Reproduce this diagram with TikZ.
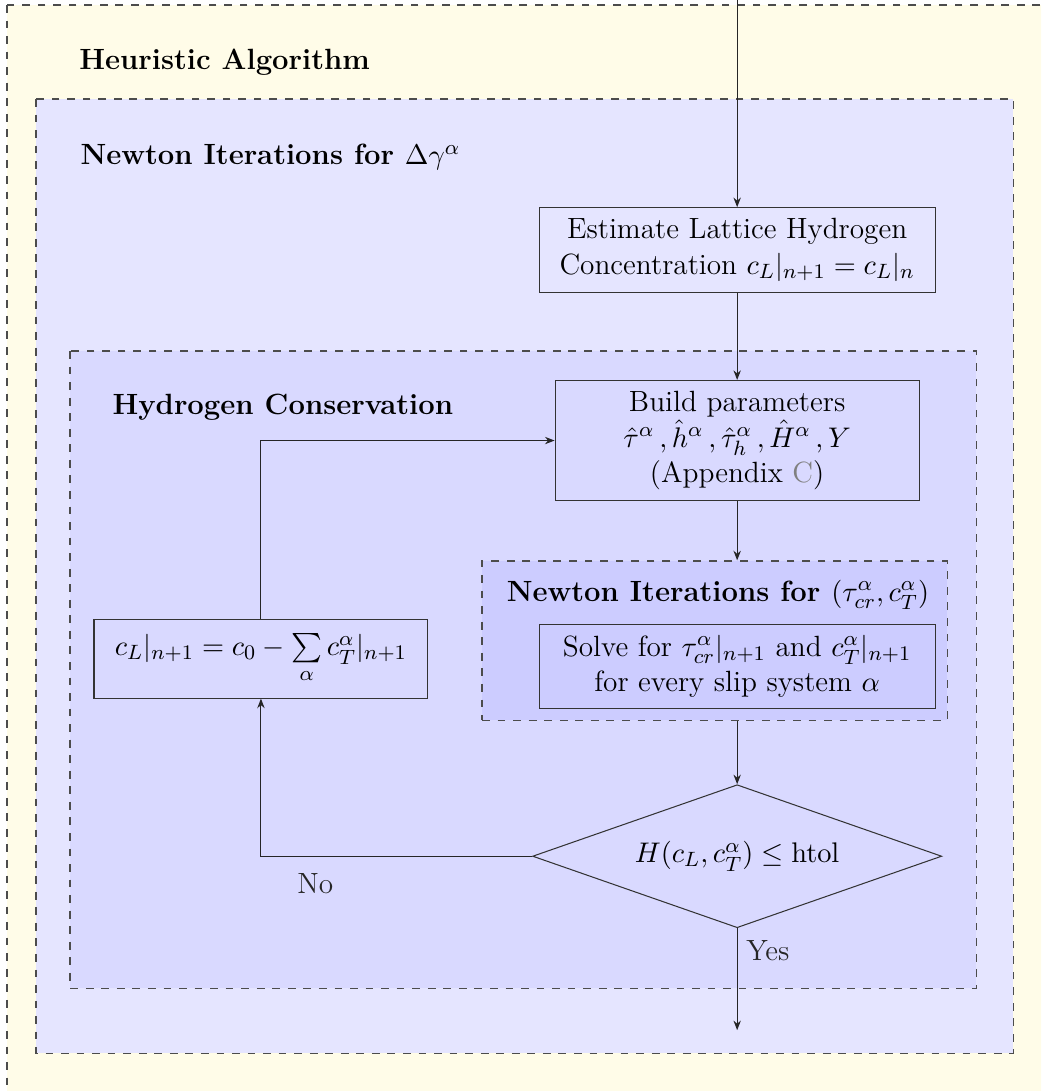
\documentclass[tikz,border=0pt]{standalone}
\usepackage{amsmath,amssymb}
\usepackage{tikz}
\usetikzlibrary{positioning,arrows.meta,calc,shapes.geometric}
\newcommand{\picfont}{\fontsize{11.3}{13.8}\selectfont}
\tikzset{
  grp/.style={draw=black!70, dashed, line width=0.5pt},
  ttl/.style={font=\picfont\bfseries, anchor=west, inner sep=0pt},
  blk/.style={draw=black!80, align=center, inner sep=3pt},
  dec/.style={draw=black!80, diamond, aspect=2, align=center, inner sep=1pt},
  fl/.style={-{Stealth[length=1.3mm,width=1mm]}, black!85},
}
\definecolor{outbg}{RGB}{255,252,232}

\begin{document}
\begin{tikzpicture}[font=\picfont]
\useasboundingbox (0,0) rectangle (14.125,-14.80);
\clip (0,0) rectangle (14.125,-14.80);
% nested regions
\path[grp, fill=outbg] (0.095,-0.068) rectangle (15,-16);
\path[grp, fill=blue!10] (0.488,-1.343) rectangle (13.745,-14.288);
\path[grp, fill=blue!15] (0.95,-4.763) rectangle (13.243,-13.406);
\node[grp, fill=blue!20, minimum width=6.31cm, minimum height=2.16cm, inner sep=0pt] (nwin) at (9.695,-8.69) {};
\node[ttl] (tha) at (1.07,-0.84) {Heuristic Algorithm};
\node[ttl] (tnw) at (1.085,-2.13) {Newton Iterations for $\Delta\gamma^\alpha$};
\node[ttl] (thc) at (1.52,-5.52) {Hydrogen Conservation};
\node[ttl, anchor=center] (tin) at (9.74,-8.07) {Newton Iterations for $(\tau^\alpha_{cr},c^\alpha_T)$};
% flow
\coordinate (in) at (10,0);
\node[blk, minimum width=5.37cm, minimum height=1.15cm] (est) at (10,-3.392)
  {Estimate Lattice Hydrogen\\ Concentration $c_L|_{n+1}=c_L|_n$};
\node[blk, minimum width=4.94cm, minimum height=1.63cm, below=1.18cm of est] (bld)
  {Build parameters\\ $\hat{\tau}^\alpha\,,\hat{h}^\alpha\,,\hat{\tau}_h^\alpha\,,\hat{H}^\alpha\,,Y$\\ (Appendix \textcolor{gray}{C})};
\node[blk, minimum width=5.37cm, minimum height=1.15cm] (slv) at (10,-9.04)
  {Solve for $\tau^\alpha_{cr}|_{n+1}$ and $c^\alpha_T|_{n+1}$\\ for every slip system $\alpha$};
\node[dec, minimum width=5.55cm, minimum height=1.94cm] (chk) at (10,-11.615)
  {$H(c_L,c^\alpha_T)\leq\mathrm{htol}$};
\node[blk, minimum width=4.53cm, minimum height=1.07cm] (upd) at (3.54,-8.935)
  {$c_L|_{n+1}=c_0-\sum\limits_\alpha c^\alpha_T|_{n+1}$};
\coordinate (out) at (10,-13.975);
\draw[fl] (in) -- (est);
\draw[fl] (est) -- (bld);
\draw[fl] (bld.south) -- (bld.south |- nwin.north);
\draw[fl] (chk.north |- nwin.south) -- (chk);
\draw[fl] (chk) -- node[right, pos=.22] {Yes} (out);
\draw[fl] (chk.west) -| node[below=3pt, pos=.4] {No} (upd.south);
\draw[fl] (upd.north) |- (bld.west);
\end{tikzpicture}
\end{document}
